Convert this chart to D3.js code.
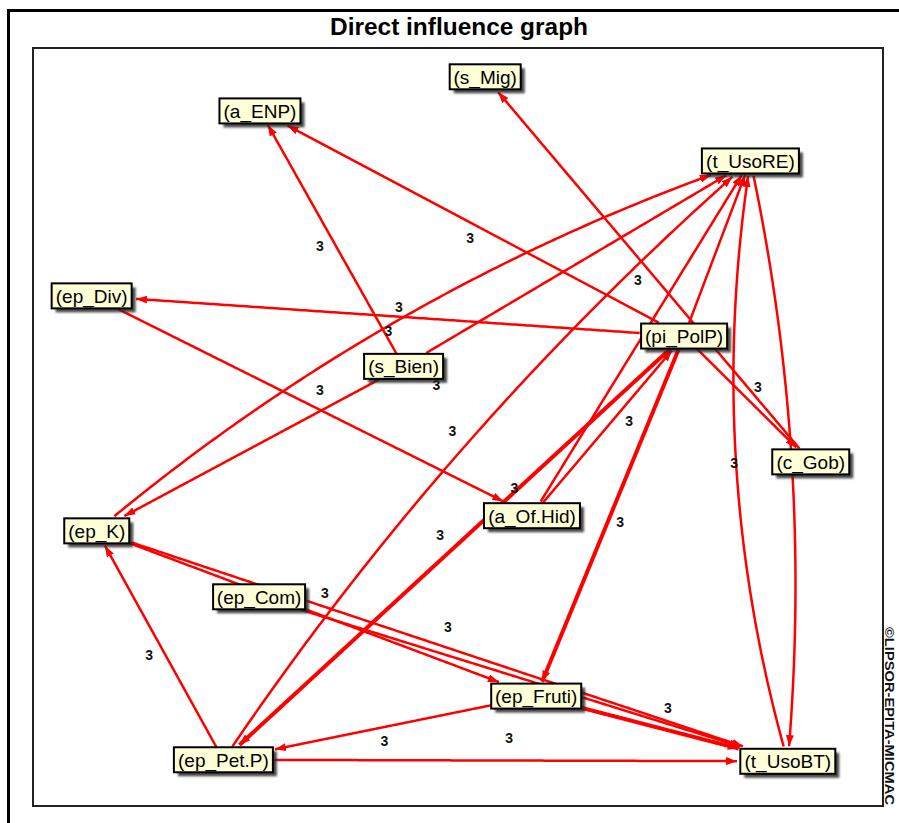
<!DOCTYPE html>
<html>
<head>
<meta charset="utf-8">
<title>Direct influence graph</title>
<script src="https://cdn.jsdelivr.net/npm/d3@7"></script>
<style>
  body { margin: 0; background: #fff; }
  svg { display: block; }
</style>
</head>
<body>
<div id="graph"></div>
<script>
// Variables and their place on the MICMAC plane (0-100 on both axes)
var nodeNames = ["s_Mig", "a_ENP", "t_UsoRE", "ep_Div", "pi_PolP", "s_Bien", "c_Gob",
                 "a_Of.Hid", "ep_K", "ep_Com", "ep_Fruti", "ep_Pet.P", "t_UsoBT"];
var nodeX = [53.2, 26.7, 84.4, 6.9, 76.6, 43.6, 91.5, 58.7, 7.5, 26.6, 59.2, 22.4, 88.8];
var nodeY = [3.8, 8.3, 14.9, 32.7, 38.0, 42.0, 54.6, 61.7, 63.7, 72.4, 85.5, 93.9, 94.1];

// Direct influences (source -> target) and their weight
var edgeSource = ["s_Bien", "pi_PolP", "c_Gob", "pi_PolP", "ep_Div", "a_Of.Hid", "pi_PolP", "pi_PolP",
                  "ep_Pet.P", "ep_Fruti", "ep_Pet.P", "ep_Fruti", "ep_K", "ep_K", "ep_Com", "ep_K",
                  "s_Bien", "ep_Pet.P", "a_Of.Hid", "pi_PolP", "pi_PolP", "t_UsoRE", "t_UsoBT", "s_Bien"];
var edgeTarget = ["a_ENP", "a_ENP", "s_Mig", "ep_Div", "a_Of.Hid", "pi_PolP", "ep_Fruti", "ep_Pet.P",
                  "ep_K", "ep_Pet.P", "t_UsoBT", "t_UsoBT", "t_UsoBT", "ep_Fruti", "t_UsoBT", "t_UsoRE",
                  "t_UsoRE", "t_UsoRE", "t_UsoRE", "t_UsoRE", "c_Gob", "t_UsoBT", "t_UsoRE", "ep_K"];
var edgeWeight = [3, 3, 3, 3, 3, 3, 3, 3, 3, 3, 3, 3, 3, 3, 3, 3, 3, 3, 3, 3, 3, 3, 3, 3];

// drawing settings for each link: bend of the curve, stroke width, label spot [t, dx, dy]
var linkBend = [0, 0, 0, 0, 0, 0, 0, 0, 0, 0, 0, 0, 0, 0, 0, -0.093,
                0, -0.065, 0, 0, 0, -0.075, -0.11, 0];
var linkWidth = [2.5, 2.5, 2.5, 2.5, 2.5, 2.5, 4, 4, 2.5, 2.5, 2.5, 4, 2.5, 2.5, 2.5, 2.5,
                 2.5, 2.5, 2.5, 2.5, 2.5, 2.5, 2.5, 2.5];
var labelSpot = [[0.5, -12, 7.5], [0.5, -2, 14.5], [0.5, -10, 10.5], [0.5, 11, -9], [0.5, 8, -16],
                 [0.5, 21, -5], [0.5, 10, 6], [0.5, -13.5, -13], [0.5, -11, 9.5], [0.5, 4.5, 13],
                 [0.5, 3.5, -22.5], [0.5, 6, -20.5], [0.5, 5.5, -19], [0.5, 8.5, -20.5], null,
                 [0.5, -18, 15.5], [0.1, -2, 39.5], [0.5, -15, -12], [0.08, -35, 1], null,
                 [0.5, 10.5, -12], null, [0.5, -2, 0], null];

var svgWidth = 899;
var svgHeight = 823;
var frame = {left: 33, top: 48, right: 883, bottom: 806};

var svg = d3.select("#graph")
  .append("svg")
  .attr("width", svgWidth)
  .attr("height", svgHeight)
  .style("background", "#fff");

var defs = svg.append("defs");
defs.append("marker")
  .attr("id", "arrow")
  .attr("viewBox", "0 0 11 8")
  .attr("refX", 11)
  .attr("refY", 4)
  .attr("markerWidth", 11)
  .attr("markerHeight", 8)
  .attr("markerUnits", "userSpaceOnUse")
  .attr("orient", "auto")
  .append("path")
  .attr("d", "M0,0 L11,4 L0,8 Z")
  .attr("fill", "#ff0000");

defs.append("filter")
  .attr("id", "blur")
  .append("feGaussianBlur")
  .attr("stdDeviation", 1.2);

// outer frame and title
svg.append("rect")
  .attr("x", 8.5).attr("y", 10.5)
  .attr("width", 950).attr("height", 900)
  .attr("fill", "none")
  .attr("stroke", "#000")
  .attr("stroke-width", 3);

svg.append("text")
  .attr("x", 459)
  .attr("y", 35)
  .attr("text-anchor", "middle")
  .attr("font-family", "'Liberation Sans Narrow', 'Liberation Sans', Arial, sans-serif")
  .attr("font-weight", "bold")
  .attr("font-size", 23)
  .attr("textLength", 258)
  .attr("lengthAdjust", "spacingAndGlyphs")
  .text("Direct influence graph");

// inner frame
svg.append("rect")
  .attr("x", frame.left).attr("y", frame.top)
  .attr("width", frame.right - frame.left)
  .attr("height", frame.bottom - frame.top)
  .attr("fill", "#fff")
  .attr("stroke", "#222")
  .attr("stroke-width", 2);

// copyright, running down the right edge
svg.append("text")
  .attr("transform", "translate(885, 627) rotate(90)")
  .attr("font-family", "'Liberation Sans Narrow', 'Liberation Sans', Arial, sans-serif")
  .attr("font-weight", "bold")
  .attr("font-size", 13.5)
  .attr("textLength", 178)
  .attr("lengthAdjust", "spacingAndGlyphs")
  .attr("fill", "#111")
  .text("\u00A9LIPSOR-EPITA-MICMAC");

// Step 1: scales
var xScale = d3.scaleLinear().domain([0, 100]).range([frame.left, frame.right]);
var yScale = d3.scaleLinear().domain([0, 100]).range([frame.top, frame.bottom]);

var nodeData = nodeNames.map(function(name, i) {
  return {name: name, cx: xScale(nodeX[i]), cy: yScale(nodeY[i])};
});
var byName = {};
nodeData.forEach(function(d) { byName[d.name] = d; });

var edgeGroup = svg.append("g");
var labelGroup = svg.append("g");
var nodeGroup = svg.append("g");

// Step 2: node boxes (text first so the box can be sized to it)
var nodes = nodeGroup.selectAll(".node")
  .data(nodeData)
  .enter()
  .append("g")
  .attr("class", "node")
  .attr("transform", d => `translate(${d.cx}, ${d.cy})`);

nodes.append("text")
  .attr("text-anchor", "middle")
  .attr("dy", "0.36em")
  .attr("font-family", "'Liberation Sans', Arial, sans-serif")
  .attr("font-size", 19)
  .attr("fill", "#000")
  .text(d => "(" + d.name + ")");

nodes.each(function(d) {
  var tw = this.querySelector("text").getComputedTextLength();
  d.w = Math.round(tw + 8);
  d.h = 25;
});

nodes.insert("rect", "text")
  .attr("x", d => -d.w / 2 + 4)
  .attr("y", d => -d.h / 2 + 4)
  .attr("width", d => d.w)
  .attr("height", d => d.h)
  .attr("fill", "#2a2a2a")
  .attr("opacity", 0.85)
  .attr("filter", "url(#blur)");

nodes.insert("rect", "text")
  .attr("x", d => -d.w / 2)
  .attr("y", d => -d.h / 2)
  .attr("width", d => d.w)
  .attr("height", d => d.h)
  .attr("fill", "#ffffd8")
  .attr("stroke", "#000")
  .attr("stroke-width", 2);

// Step 3: links, clipped at the box borders
function bezier(p0, c, p2, t) {
  var u = 1 - t;
  return [u * u * p0[0] + 2 * u * t * c[0] + t * t * p2[0],
          u * u * p0[1] + 2 * u * t * c[1] + t * t * p2[1]];
}
function inBox(p, n, pad) {
  return Math.abs(p[0] - n.cx) <= n.w / 2 + pad && Math.abs(p[1] - n.cy) <= n.h / 2 + pad;
}

var edgeData = edgeSource.map(function(s, i) {
  var a = byName[s], b = byName[edgeTarget[i]];
  var p0 = [a.cx, a.cy], p2 = [b.cx, b.cy];
  var dx = p2[0] - p0[0], dy = p2[1] - p0[1];
  var len = Math.sqrt(dx * dx + dy * dy);
  var c = [(p0[0] + p2[0]) / 2 - dy / len * linkBend[i] * len,
           (p0[1] + p2[1]) / 2 + dx / len * linkBend[i] * len];
  var pts = d3.range(0, 201).map(t => bezier(p0, c, p2, t / 200))
    .filter(p => !inBox(p, a, 0) && !inBox(p, b, 1.5));
  var spot = labelSpot[i];
  var lp = spot ? bezier(p0, c, p2, spot[0]) : null;
  return {pts: pts, width: linkWidth[i], weight: edgeWeight[i],
          label: spot ? [lp[0] + spot[1], lp[1] + spot[2]] : null};
});

var line = d3.line();

edgeGroup.selectAll(".link")
  .data(edgeData)
  .enter()
  .append("path")
  .attr("class", "link")
  .attr("d", d => line(d.pts))
  .attr("fill", "none")
  .attr("stroke", "#ff0000")
  .attr("stroke-width", d => d.width)
  .attr("marker-end", "url(#arrow)");

// weights
labelGroup.selectAll(".weight")
  .data(edgeData.filter(d => d.label))
  .enter()
  .append("text")
  .attr("class", "weight")
  .attr("x", d => d.label[0])
  .attr("y", d => d.label[1])
  .attr("dy", "0.36em")
  .attr("text-anchor", "middle")
  .attr("font-family", "'Liberation Sans', Arial, sans-serif")
  .attr("font-weight", "bold")
  .attr("font-size", 14)
  .attr("fill", "#111")
  .text(d => d.weight);
</script>
</body>
</html>
